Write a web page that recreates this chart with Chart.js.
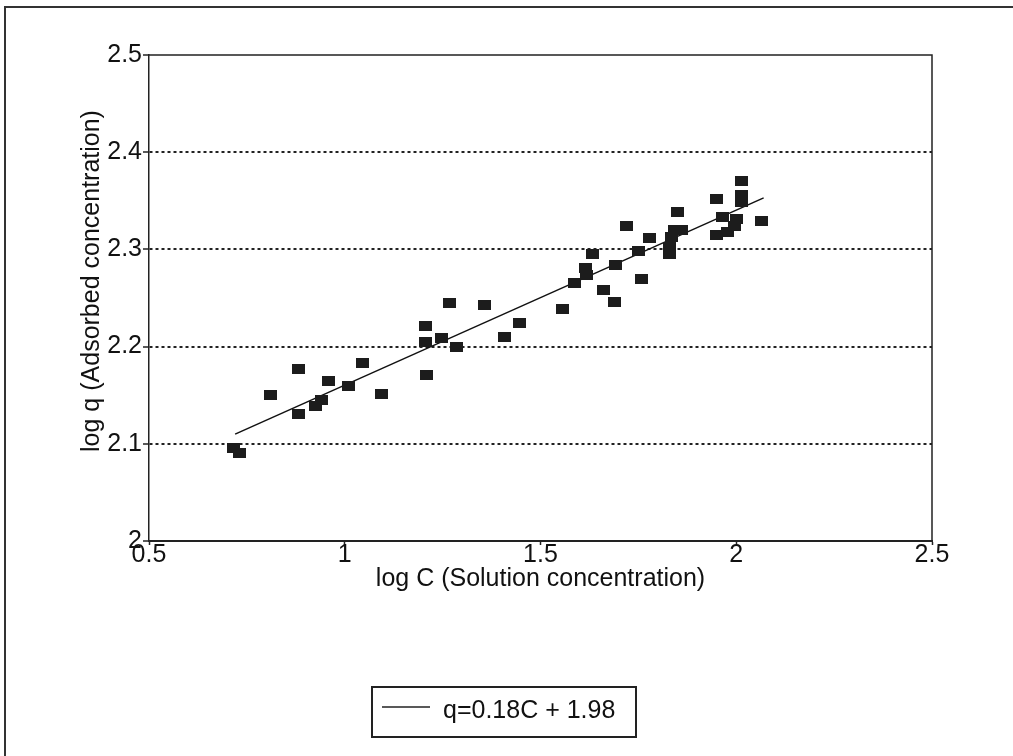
<head>
    <meta charset="UTF-8">
    <title>log q vs log C</title>
    <script src="https://cdn.jsdelivr.net/npm/chart.js@4.4.0/dist/chart.umd.min.js"></script>
    <style>
        body { margin: 0; background: #fff; }
        #wrap { width: 1013px; height: 756px; position: relative; }
    </style>
</head>
<body>
    <div id="wrap"><canvas id="isoChart" width="1013" height="756"></canvas></div>

    <script>
        // measured points, log C (x) and log q (y)
        var logC = [0.717, 0.730, 0.811, 0.883, 0.883, 0.926, 0.941, 0.959, 1.010, 1.046,
                    1.094, 1.207, 1.207, 1.209, 1.247, 1.268, 1.286, 1.357, 1.408, 1.446,
                    1.556, 1.587, 1.615, 1.617, 1.633, 1.661, 1.689, 1.691, 1.719, 1.750,
                    1.758, 1.778, 1.829, 1.829, 1.834, 1.842, 1.860, 1.849, 1.949, 1.949,
                    1.977, 1.964, 2.000, 2.013, 2.013, 2.013, 2.064, 1.995];
        var logQ = [2.096, 2.091, 2.150, 2.177, 2.131, 2.139, 2.145, 2.165, 2.159, 2.183,
                    2.151, 2.221, 2.205, 2.171, 2.209, 2.245, 2.200, 2.243, 2.210, 2.224,
                    2.239, 2.265, 2.281, 2.274, 2.295, 2.258, 2.246, 2.284, 2.324, 2.298,
                    2.270, 2.312, 2.295, 2.302, 2.313, 2.320, 2.320, 2.338, 2.352, 2.315,
                    2.318, 2.333, 2.331, 2.370, 2.356, 2.349, 2.329, 2.324];

        // fitted line end points
        var fitC = [0.72, 2.07];
        var fitQ = [2.11, 2.353];
        var fitLabel = 'q=0.18C + 1.98';

        var xTickLabels = ['0.5', '1', '1.5', '2', '2.5'];
        var yTickLabels = ['2', '2.1', '2.2', '2.3', '2.4', '2.5'];
        var yTitle = 'log q (Adsorbed concentration)';

        var FONT = "'Liberation Sans', Arial, sans-serif";

        // little flat rectangle marker
        var marker = document.createElement('canvas');
        marker.width = 13;
        marker.height = 10;
        var mctx = marker.getContext('2d');
        mctx.fillStyle = '#1c1c1c';
        mctx.fillRect(0, 0, 13, 10);

        var framePlugin = {
            id: 'frame',
            afterDraw: function (chart) {
                var ctx = chart.ctx;
                var a = chart.chartArea;
                ctx.save();
                // outer page frame (top + left)
                ctx.strokeStyle = '#333';
                ctx.lineWidth = 2;
                ctx.beginPath();
                ctx.moveTo(5, 756);
                ctx.lineTo(5, 7);
                ctx.lineTo(1013, 7);
                ctx.stroke();
                // plot box top + right
                ctx.strokeStyle = '#222';
                ctx.lineWidth = 1.5;
                ctx.beginPath();
                ctx.moveTo(a.left, a.top);
                ctx.lineTo(a.right, a.top);
                ctx.lineTo(a.right, a.bottom);
                ctx.stroke();
                // y axis title (sits a bit above the middle in the original)
                ctx.fillStyle = '#111';
                ctx.font = '25px ' + FONT;
                ctx.textAlign = 'center';
                ctx.textBaseline = 'middle';
                ctx.save();
                ctx.translate(92, 281);
                ctx.rotate(-Math.PI / 2);
                ctx.fillText(yTitle, 0, 0);
                ctx.restore();
                // legend box
                ctx.lineWidth = 2;
                ctx.strokeRect(372, 687, 264, 50);
                ctx.lineWidth = 1.5;
                ctx.beginPath();
                ctx.moveTo(382, 707);
                ctx.lineTo(430, 707);
                ctx.stroke();
                ctx.textAlign = 'left';
                ctx.fillText(chart.data.datasets[1].label, 443, 711);
                ctx.restore();
            }
        };

        var points = logC.map(function (c, i) { return { x: c, y: logQ[i] }; });
        var fitPoints = fitC.map(function (c, i) { return { x: c, y: fitQ[i] }; });

        new Chart(document.getElementById('isoChart'), {
            type: 'scatter',
            data: {
                datasets: [{
                    label: 'data',
                    data: points,
                    pointStyle: marker,
                    pointRadius: 6,
                    backgroundColor: '#1c1c1c',
                    borderColor: '#1c1c1c'
                }, {
                    type: 'line',
                    label: fitLabel,
                    data: fitPoints,
                    borderColor: '#111',
                    borderWidth: 1.5,
                    pointRadius: 0,
                    fill: false
                }]
            },
            options: {
                responsive: false,
                animation: false,
                layout: { padding: { left: 0, top: 55, right: 81, bottom: 155 } },
                plugins: {
                    legend: { display: false },
                    tooltip: { enabled: false }
                },
                scales: {
                    x: {
                        type: 'linear',
                        min: 0.5,
                        max: 2.5,
                        afterFit: function (s) { s.height = 60; },
                        ticks: {
                            stepSize: 0.5,
                            padding: -5,
                            color: '#111',
                            font: { family: FONT, size: 25 },
                            maxRotation: 0,
                            callback: function (v, i) { return xTickLabels[i]; }
                        },
                        grid: { drawOnChartArea: false, tickLength: 4, tickColor: '#222', tickWidth: 1.5 },
                        border: { color: '#222', width: 2 },
                        title: {
                            display: true,
                            text: 'log C (Solution concentration)',
                            color: '#111',
                            font: { family: FONT, size: 25 },
                            padding: { top: 0, bottom: 7 }
                        }
                    },
                    y: {
                        min: 2,
                        max: 2.5,
                        afterFit: function (s) { s.width = 149; },
                        ticks: {
                            stepSize: 0.1,
                            padding: 1,
                            color: '#111',
                            font: { family: FONT, size: 25 },
                            callback: function (v, i) { return yTickLabels[i]; }
                        },
                        grid: {
                            tickLength: 6,
                            tickColor: '#222',
                            tickWidth: 1.5,
                            lineWidth: 2,
                            color: function (ctx) {
                                var v = ctx.tick ? ctx.tick.value : 0;
                                return (v > 2.05 && v < 2.45) ? '#222' : 'rgba(0,0,0,0)';
                            }
                        },
                        border: { color: '#222', width: 1.5, dash: [3, 3] },
                        title: { display: false }
                    }
                }
            },
            plugins: [framePlugin]
        });
    </script>
</body>
